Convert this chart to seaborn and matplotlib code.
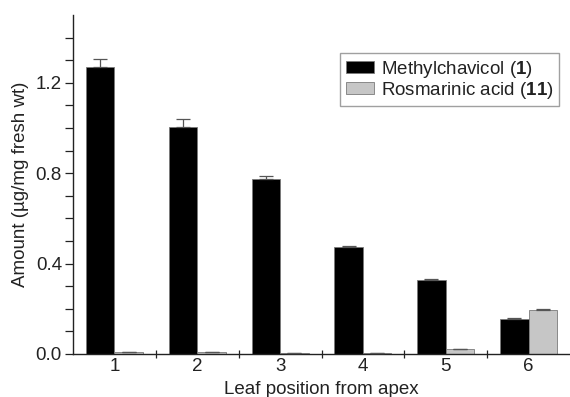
import matplotlib
matplotlib.use("Agg")
import matplotlib.pyplot as plt
import seaborn as sns
import pandas as pd
import numpy as np

positions = ["1", "2", "3", "4", "5", "6"]
methyl = [1.268, 1.006, 0.774, 0.472, 0.327, 0.156]
methyl_err = [0.036, 0.034, 0.015, 0.004, 0.006, 0.005]
rosm = [0.008, 0.008, 0.004, 0.004, 0.020, 0.196]
rosm_err = [0.002, 0.002, 0.001, 0.001, 0.003, 0.003]
series = ["Methylchavicol ($\\mathbf{1}$)", "Rosmarinic acid ($\\mathbf{11}$)"]
yticks = [0.0, 0.4, 0.8, 1.2]

FS = 13.5

sns.set_theme(style="ticks")
plt.rcParams["font.family"] = ["Liberation Sans", "DejaVu Sans"]
plt.rcParams["mathtext.fontset"] = "custom"
plt.rcParams["mathtext.rm"] = "Liberation Sans"
plt.rcParams["mathtext.bf"] = "Liberation Sans:bold"

df = pd.DataFrame({
    "pos": positions * 2,
    "val": methyl + rosm,
    "series": [series[0]] * 6 + [series[1]] * 6,
})

fig = plt.figure(figsize=(5.7, 3.97), dpi=100)
ax = fig.add_axes([73 / 570, 1 - 354 / 397, 497 / 570, 339 / 397])

sns.barplot(data=df, x="pos", y="val", hue="series", order=positions,
            hue_order=series, palette=["black", "#c6c6c6"], width=0.69,
            errorbar=None, legend=False, ax=ax, saturation=1,
            edgecolor="#7a7a7a", linewidth=0.6)

for cont, errs in zip(ax.containers, [methyl_err, rosm_err]):
    xs = [b.get_x() + b.get_width() / 2 for b in cont]
    ys = [b.get_height() for b in cont]
    ax.errorbar(xs, ys, yerr=[np.zeros(len(errs)), errs], fmt="none",
                ecolor="#555555", elinewidth=0.9, capsize=5.2, capthick=0.9,
                zorder=3)

ax.set_xlim(-0.5, 5.5)
ax.set_ylim(0, 1.5)
ax.set_yticks(yticks)
ax.set_yticklabels([f"{t:.1f}" for t in yticks])
ax.set_yticks(np.arange(0.1, 1.45, 0.1), minor=True)
ax.set_xticks(np.arange(0.5, 5.0, 1.0), minor=True)
ax.tick_params(axis="x", which="major", length=0, labelsize=FS, pad=3, colors="#222222")
ax.tick_params(axis="x", which="minor", direction="inout", length=6, width=0.9, color="#222222")
ax.tick_params(axis="y", which="both", direction="out", length=6, width=0.9,
               labelsize=FS, pad=2, colors="#222222")

for s in ["top", "right"]:
    ax.spines[s].set_visible(False)
for s in ["left", "bottom"]:
    ax.spines[s].set_linewidth(1.0)
    ax.spines[s].set_color("#222222")

ax.set_xlabel("Leaf position from apex", fontsize=FS, labelpad=4.5, color="#222222")
ax.set_ylabel("Amount (µg/mg fresh wt)", fontsize=FS, labelpad=5, color="#222222")

leg = ax.legend(handles=ax.containers, labels=series, loc="upper right",
                bbox_to_anchor=(0.978, 0.888), borderaxespad=0, fontsize=FS,
                frameon=True, fancybox=False, handlelength=1.5, handleheight=0.6,
                handletextpad=0.37, labelspacing=0.0, borderpad=0.3)
leg.get_frame().set_edgecolor("#888888")
leg.get_frame().set_linewidth(1.0)
for t in leg.get_texts():
    t.set_color("#222222")

fig.savefig("out.png", dpi=100)
